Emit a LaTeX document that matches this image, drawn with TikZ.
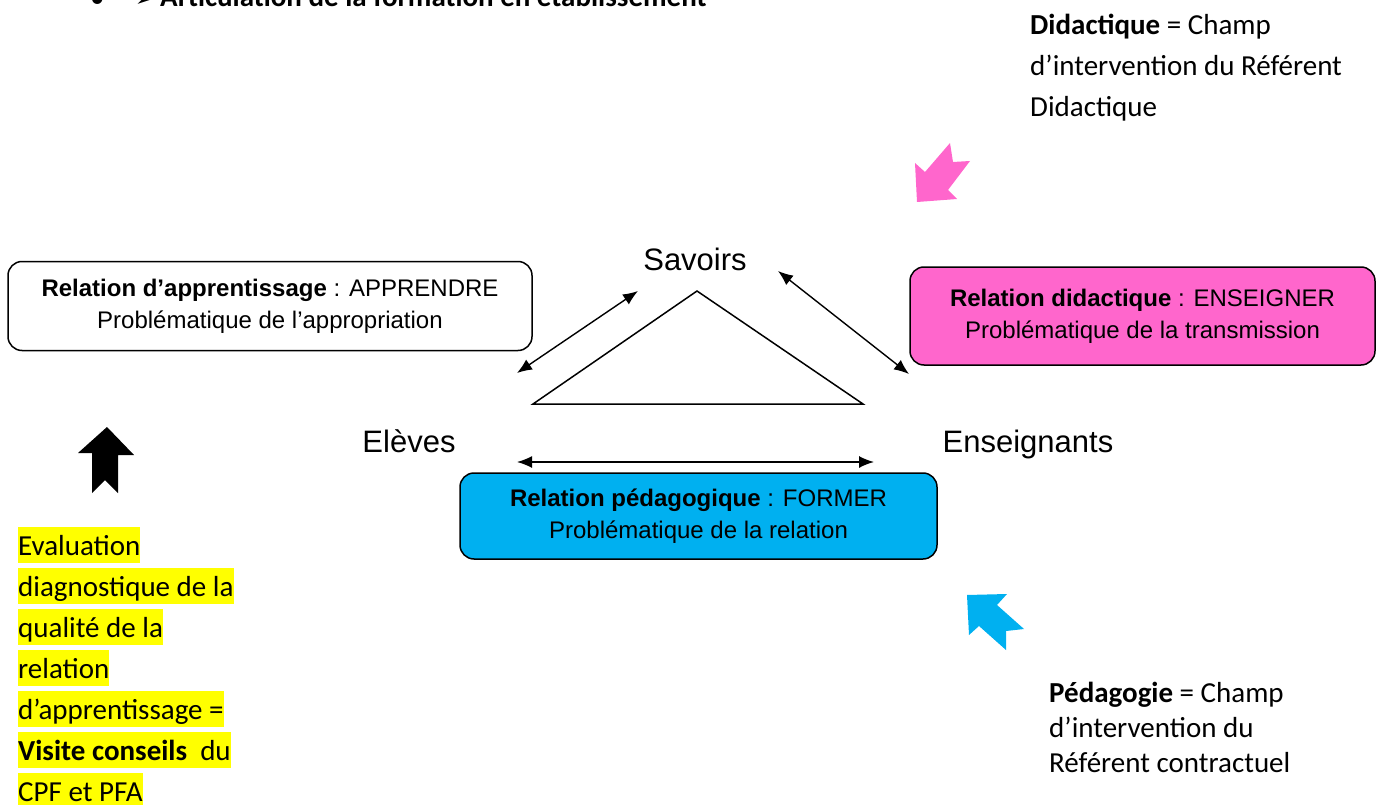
\documentclass[tikz,border=0pt]{standalone}
\usepackage{fontspec}
\setmainfont{Carlito}
\newfontfamily\arialfont{Liberation Sans}
\newfontfamily\symbfont{DejaVu Sans}
\usetikzlibrary{positioning}
\usetikzlibrary{arrows.meta}
\definecolor{didpink}{HTML}{FF66CC}
\definecolor{pedblue}{HTML}{00B0F0}
\definecolor{hlyellow}{HTML}{FFFF00}

\tikzset{
	relbox/.style={draw=black, line width=1.5pt, rounded corners=14pt, align=center, inner sep=0pt, font=\arialfont\fontsize{24}{32}\selectfont},
	pole/.style={anchor=base, inner sep=0pt, font=\arialfont\fontsize{31}{36}\selectfont},
	note/.style={anchor=base west, inner sep=0pt, font=\fontsize{29}{35}\selectfont},
	hl/.style={note, fill=hlyellow, text height=28pt, text depth=8pt},
	link/.style={line width=1.4pt, {Latex[length=15pt,width=12pt]}-{Latex[length=15pt,width=12pt]}}
}

\begin{document}
\begin{tikzpicture}[x=1pt,y=-1pt]
				\path[use as bounding box] (0,0) rectangle (1376,805);
				\clip (0,0) rectangle (1376,805);

				%Title (cut at the top)
				\node[note] (puce) at (90,8) {•};
				\node[note, font=\symbfont\fontsize{22}{26}\selectfont] (fleche) at (135,7) {➢};
				\node[note, font=\bfseries\fontsize{29}{35}\selectfont] (titre) at (160,7) {Articulation de la formation en établissement};

				%Nodes
				\coordinate      (top) 	at 	(697,291);
				\coordinate      (bl) 	at 	(533,404);
				\coordinate      (br) 	at 	(863,404);
				\coordinate      (ea) 	at 	(517,373);
				\coordinate      (eb) 	at 	(638,291);
				\coordinate      (sa) 	at 	(778,271);
				\coordinate      (sb) 	at 	(909,374);
				\coordinate      (pa) 	at 	(517,462);
				\coordinate      (pb) 	at 	(874,462);

				\node[pole] (savoirs) at (695,270) {Savoirs};
				\node[pole] (eleves) at (409,452) {Elèves};
				\node[pole] (ens) at (1028,452) {Enseignants};

				\node[relbox, minimum width=524pt, minimum height=89pt] (appr) at (270,306) {\textbf{Relation d’apprentissage} : APPRENDRE\\Problématique de l’appropriation};
				\node[relbox, fill=didpink, minimum width=465pt, minimum height=98pt] (did) at (1142.5,316) {\textbf{Relation didactique} : ENSEIGNER\\Problématique de la transmission};
				\node[relbox, fill=pedblue, minimum width=477pt, minimum height=86pt] (ped) at (698.5,516) {\textbf{Relation pédagogique} : FORMER\\Problématique de la relation};

				%Lines
				\draw[line width=1.5pt, line join=miter] (top) -- (bl) -- (br) -- cycle;
				\draw[link] (ea) -- (eb);
				\draw[link] (sa) -- (sb);
				\draw[link] (pa) -- (pb);

				%Big arrows
				\fill[black] (107,427) -- (134,455) -- (118,455) -- (118,493) -- (105,480) -- (92,493) -- (92,453) -- (78,453) -- cycle;
				\fill[didpink] (917,202) -- (915,163) -- (925,172) -- (950,143) -- (953,162) -- (970,161) -- (948,190) -- (957,199) -- cycle;
				\fill[pedblue] (967,595) -- (1007,594) -- (997,605) -- (1024,629) -- (1006,631) -- (1006,650) -- (979,626) -- (969,635) -- cycle;

				%Texts
				\node[note] (did1) at (1030,35) {\textbf{Didactique} = Champ};
				\node[note] (did2) at (1030,76) {d’intervention du Référent};
				\node[note] (did3) at (1030,117) {Didactique};

				\node[note] (ped1) at (1049,702) {\textbf{Pédagogie} = Champ};
				\node[note] (ped2) at (1049,737) {d’intervention du};
				\node[note] (ped3) at (1049,772) {Référent contractuel};

				\foreach \txt [count=\i from 0] in {Evaluation, diagnostique de la, qualité de la, relation, d’apprentissage =, {\textbf{Visite conseils}\ \ du}, CPF et PFA}
					\node[hl] (eval\i) at (18,555+41*\i) {\txt};

			\end{tikzpicture}
\end{document}
